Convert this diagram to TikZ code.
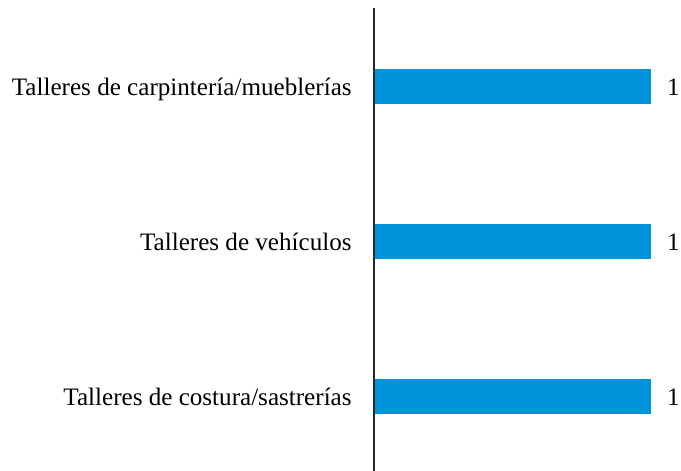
\documentclass[tikz,border=0pt]{standalone}
\usepackage{fontspec}
\setmainfont{Liberation Serif}
\usetikzlibrary{positioning}
\definecolor{barblue}{RGB}{0,149,218}
\tikzset{
    bar/.style={fill=barblue, draw=none, inner sep=0pt, minimum width=138.5pt, minimum height=17.5pt, anchor=west},
    cat/.style={inner sep=0pt, anchor=base east, font=\fontsize{12.55}{15}\selectfont},
    val/.style={inner sep=0pt, anchor=base west, font=\fontsize{12.55}{15}\selectfont}
}

\begin{document}
\begin{tikzpicture}[x=0.5pt, y=-0.5pt]
    \useasboundingbox (0,0) rectangle (681,471);
    % barras
    \node[bar] (bar1) at (374,86) {};
    \node[bar] (bar2) at (374,241) {};
    \node[bar] (bar3) at (374,396) {};
    % categorias
    \node[cat] (cat1) at ([xshift=-11pt, yshift=-4.6pt]bar1.west) {Talleres de carpintería/mueblerías};
    \node[cat] (cat2) at ([xshift=-11pt, yshift=-4.6pt]bar2.west) {Talleres de vehículos};
    \node[cat] (cat3) at ([xshift=-11pt, yshift=-4.6pt]bar3.west) {Talleres de costura/sastrerías};
    % valores
    \node[val] (val1) at ([xshift=7.4pt, yshift=-4.6pt]bar1.east) {1};
    \node[val] (val2) at ([xshift=7.4pt, yshift=-4.6pt]bar2.east) {1};
    \node[val] (val3) at ([xshift=7.4pt, yshift=-4.6pt]bar3.east) {1};
    % eje
    \coordinate (axtop) at (374,8);
    \coordinate (axbot) at (374,471);
    \draw[line width=0.6pt, black!85] (axtop) -- (axbot);
\end{tikzpicture}
\end{document}
